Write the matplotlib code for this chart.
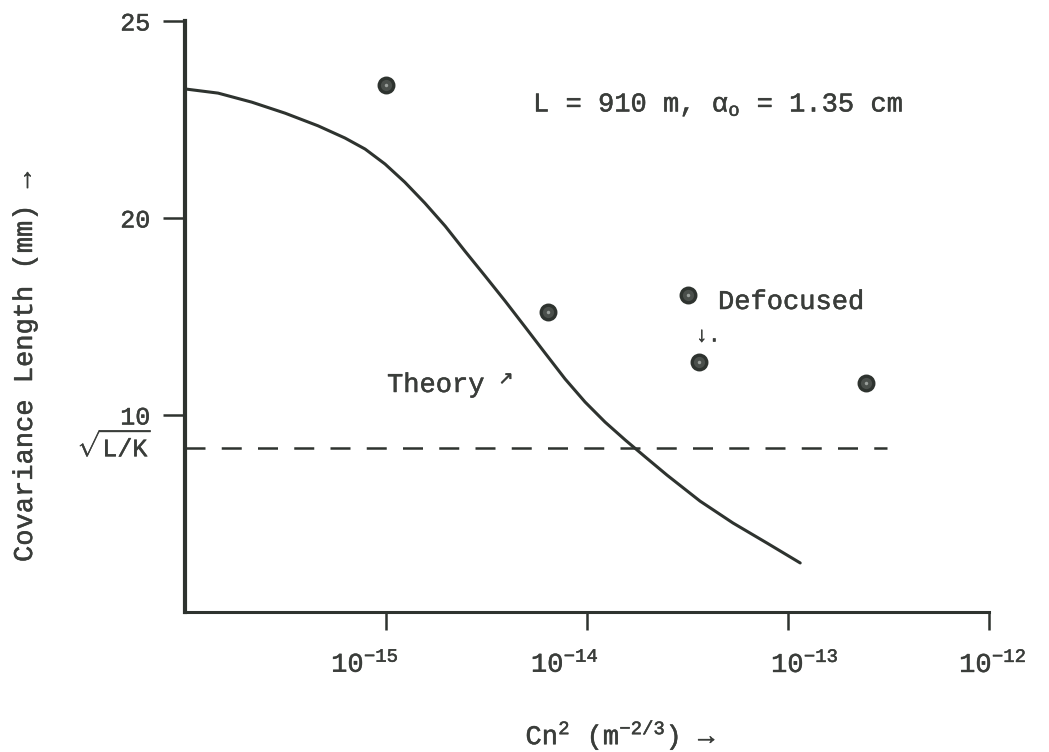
import numpy as np
import matplotlib
matplotlib.use("Agg")
import matplotlib.pyplot as plt
import matplotlib.patheffects as pe
from matplotlib.text import Text
from matplotlib.transforms import ScaledTranslation
from matplotlib.ticker import FixedLocator, LogFormatterMathtext, NullLocator

# ---------------- data ----------------
theory_x = [1.02e-16, 1.46e-16, 2.15e-16, 3.15e-16, 4.59e-16, 6.25e-16, 7.87e-16,
            9.89e-16, 1.24e-15, 1.56e-15, 1.97e-15, 2.47e-15, 3.11e-15, 3.91e-15,
            4.92e-15, 6.18e-15, 7.78e-15, 9.78e-15, 1.23e-14, 1.55e-14, 1.95e-14,
            2.50e-14, 3.65e-14, 5.32e-14, 7.86e-14, 1.15e-13]
theory_y = [23.27, 23.17, 22.94, 22.66, 22.34, 22.03, 21.75, 21.37, 20.91, 20.38,
            19.59, 18.32, 17.06, 15.79, 14.47, 13.15, 11.83, 10.66, 9.64, 8.73,
            7.87, 6.95, 5.63, 4.52, 3.50, 2.49]
meas_x = [1.0e-15, 6.4e-15, 3.18e-14, 3.6e-14, 2.44e-13]
meas_y = [23.38, 15.23, 16.09, 12.69, 11.62]
sqrt_lk = 8.32
sqrt_lk_xrange = [1e-16, 3.1e-13]
x_ticks = [1e-15, 1e-14, 1e-13, 1e-12]
y_ticks = [10, 20, 25]
x_lim = [1e-16, 1e-12]
y_lim = [0, 25]

# ---------------- style ----------------
W, H = 1049, 752
INK = "#2e332f"
TXT = "#3a3d3a"
FONT = ["Liberation Mono", "DejaVu Sans Mono"]
plt.rcParams["font.family"] = FONT
plt.rcParams["mathtext.fontset"] = "custom"
plt.rcParams["mathtext.rm"] = "Liberation Mono"
plt.rcParams["mathtext.it"] = "Liberation Mono"
plt.rcParams["mathtext.default"] = "regular"


def px(x, y):
    return x / W, 1 - y / H


fig = plt.figure(figsize=(W / 100, H / 100), dpi=100)
fig.patch.set_facecolor("white")
ax = fig.add_axes([185 / W, 1 - 612 / H, (989 - 185) / W, (612 - 21) / H])
ax.set_facecolor("white")


# y axis drawn with a stretched segment above 20 (as in the original)
def fwd(v):
    v = np.asarray(v, dtype=float)
    return np.where(v <= 20, v, 20 + 2 * (v - 20))


def inv(t):
    t = np.asarray(t, dtype=float)
    return np.where(t <= 20, t, 20 + (t - 20) / 2)


ax.set_xscale("log")
ax.set_yscale("function", functions=(fwd, inv))
ax.set_xlim(*x_lim)
ax.set_ylim(*y_lim)

ax.plot(theory_x, theory_y, color=INK, lw=2.2, solid_capstyle="round",
        solid_joinstyle="round", zorder=3)
ax.hlines(sqrt_lk, sqrt_lk_xrange[0], sqrt_lk_xrange[1], colors=INK, lw=1.8,
          linestyles=(0, (8, 6.5)), zorder=2)
ax.plot(meas_x, meas_y, "o", ms=10.5, mfc="#4a4f4b", mec=INK, mew=2.4, zorder=4,
        clip_on=False)
ax.plot(meas_x, meas_y, "o", ms=2.5, mfc="#9a9f9b", mec="none", zorder=5,
        clip_on=False)

for s in ["top", "right"]:
    ax.spines[s].set_visible(False)
ax.spines["left"].set_linewidth(3.0)
ax.spines["bottom"].set_linewidth(2.2)
for s in ["left", "bottom"]:
    ax.spines[s].set_color(INK)

ax.xaxis.set_major_locator(FixedLocator(x_ticks))
ax.xaxis.set_major_formatter(LogFormatterMathtext())
ax.xaxis.set_minor_locator(NullLocator())
ax.yaxis.set_major_locator(FixedLocator(y_ticks))
ax.yaxis.set_minor_locator(NullLocator())
ax.tick_params(axis="x", direction="out", length=13, width=1.8, color=INK,
               pad=15, labelsize=19.5, labelcolor=TXT)
ax.tick_params(axis="y", direction="out", length=16, width=1.8, color=INK,
               pad=9, labelsize=18, labelcolor=TXT)

# typewritten labels are not exactly centred under the ticks
x_label_shift = [-21, -22, 17, 4]
for lab, dx in zip(ax.get_xticklabels(), x_label_shift):
    lab.set_transform(lab.get_transform() + ScaledTranslation(dx / 100, 0, fig.dpi_scale_trans))

# sqrt(L/K) label on the y axis
fig.text(*px(153, 445), r"$\sqrt{L/K}$", ha="right", va="center", fontsize=18,
         color=TXT)

# axis titles
fig.text(*px(25, 367), "Covariance Length (mm) →", rotation=90, ha="center",
         va="center", fontsize=19.5, color=TXT, family=FONT)
fig.text(*px(621, 735), r"Cn$^{2}$ (m$^{-2/3}$) →", ha="center", va="center",
         fontsize=19.5, color=TXT, family=FONT)

# annotations
fig.text(*px(533, 105), r"L = 910 m, $\alpha_{o}$ = 1.35 cm", ha="left",
         va="center", fontsize=19.5, color=TXT)
fig.text(*px(387, 385), "Theory", ha="left", va="center", fontsize=19.5, color=TXT)
fig.text(*px(506, 379), "↗", ha="center", va="center", fontsize=13, color=TXT,
         family=["DejaVu Sans"])
fig.text(*px(718, 302), "Defocused", ha="left", va="center", fontsize=19.5,
         color=TXT)
fig.text(*px(708, 336), "↓.", ha="center", va="center", fontsize=15, color=TXT,
         family=FONT)

# typewriter ink is a little heavier than Liberation Mono's thin strokes
for t in fig.findobj(Text):
    t.set_path_effects([pe.withStroke(linewidth=0.35, foreground=TXT)])

fig.savefig("out.png", dpi=100, facecolor="white")
